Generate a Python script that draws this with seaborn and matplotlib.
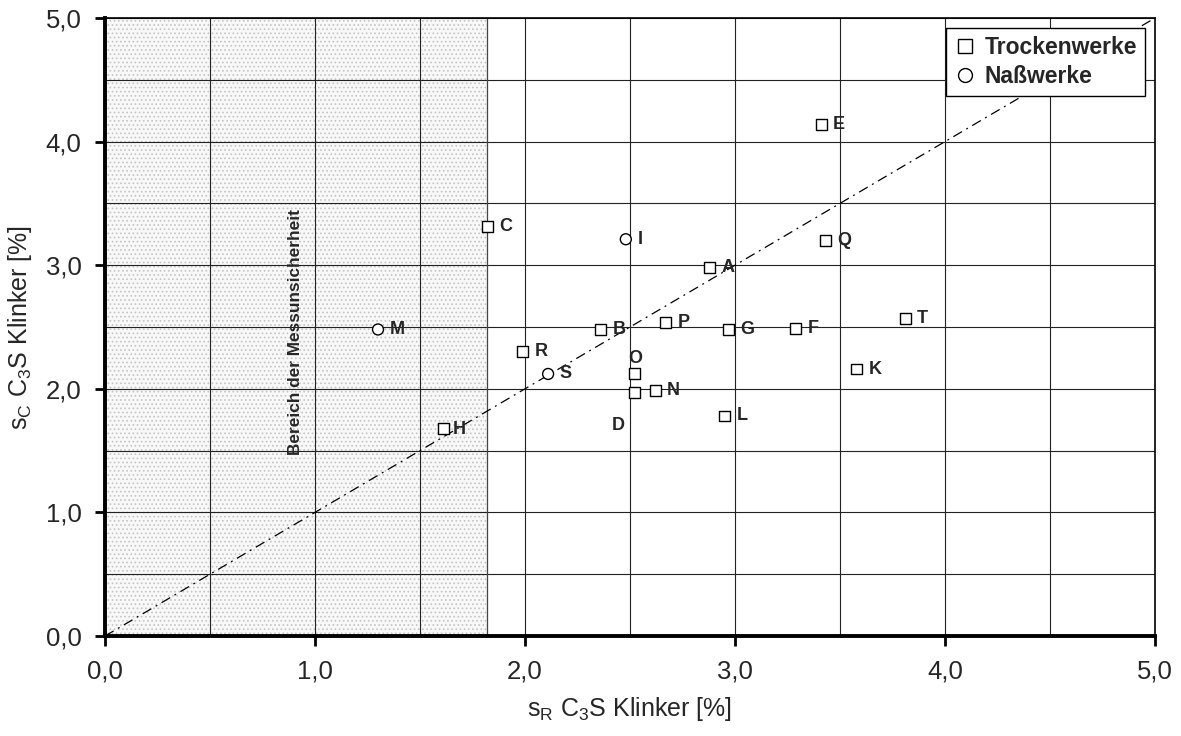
import matplotlib
matplotlib.use("Agg")
import matplotlib.pyplot as plt
from matplotlib.ticker import MultipleLocator, FuncFormatter
from matplotlib.lines import Line2D
import seaborn as sns
import pandas as pd

# Werke: Kennbuchstabe, Vergleichsstandardabweichung s_R, Wiederholstandardabweichung s_C
werke = ["A", "B", "C", "D", "E", "F", "G", "H", "I", "K",
         "L", "M", "N", "O", "P", "Q", "R", "S", "T"]
s_r = [2.88, 2.36, 1.82, 2.52, 3.41, 3.29, 2.97, 1.61, 2.48, 3.58,
       2.95, 1.30, 2.62, 2.52, 2.67, 3.43, 1.99, 2.11, 3.81]
s_c = [2.98, 2.48, 3.31, 1.97, 4.14, 2.49, 2.48, 1.68, 3.21, 2.16,
       1.78, 2.48, 1.99, 2.12, 2.54, 3.20, 2.30, 2.12, 2.57]
verfahren = ["Trockenwerke", "Trockenwerke", "Trockenwerke", "Trockenwerke",
             "Trockenwerke", "Trockenwerke", "Trockenwerke", "Trockenwerke",
             "Naßwerke", "Trockenwerke", "Trockenwerke", "Naßwerke",
             "Trockenwerke", "Trockenwerke", "Trockenwerke", "Trockenwerke",
             "Trockenwerke", "Naßwerke", "Trockenwerke"]
messunsicherheit = 1.82

df = pd.DataFrame({"werk": werke, "sR": s_r, "sC": s_c, "verfahren": verfahren})

sns.set_theme(style="white")
plt.rcParams["font.family"] = ["Liberation Sans", "DejaVu Sans"]
plt.rcParams["hatch.color"] = "#c4c4c4"
plt.rcParams["hatch.linewidth"] = 0.7
plt.rcParams["mathtext.fontset"] = "custom"
plt.rcParams["mathtext.rm"] = "Liberation Sans"
plt.rcParams["mathtext.it"] = "Liberation Sans"

fig = plt.figure(figsize=(11.81, 7.36), dpi=100)
ax = fig.add_axes([105 / 1181, 1 - 636 / 736, 1050 / 1181, 618 / 736])

# Bereich der Messunsicherheit
ax.axvspan(0, messunsicherheit, facecolor="#f8f8f8", edgecolor="#c4c4c4",
           hatch="....", linewidth=0, zorder=0.1)
ax.axvline(messunsicherheit, color="#444444", lw=0.9, zorder=0.6)

ax.set_axisbelow(True)
ax.xaxis.set_major_locator(MultipleLocator(1.0))
ax.yaxis.set_major_locator(MultipleLocator(1.0))
ax.xaxis.set_minor_locator(MultipleLocator(0.5))
ax.yaxis.set_minor_locator(MultipleLocator(0.5))
ax.grid(True, which="both", color="#222222", lw=0.8)

# Winkelhalbierende s_C = s_R
ax.plot([0, 5], [0, 5], color="black", lw=0.9, ls=(0, (8, 4, 1.5, 4)), zorder=2)

sns.scatterplot(data=df, x="sR", y="sC", style="verfahren",
                style_order=["Trockenwerke", "Naßwerke"],
                markers={"Trockenwerke": "s", "Naßwerke": "o"},
                s=62, facecolor="white", edgecolor="black", linewidth=1.0,
                ax=ax, zorder=3, legend=False)

# Beschriftung der Werke
label_offsets = {"O": (-4, 11), "D": (-16, -24), "H": (7, -1)}
for w, x, y in zip(werke, s_r, s_c):
    dx, dy = label_offsets.get(w, (8.5, 0))
    ax.annotate(w, (x, y), xytext=(dx, dy), textcoords="offset points",
                ha="left", va="center", fontsize=13, fontweight="bold", zorder=4)

ax.text(0.905, 2.46, "Bereich der Messunsicherheit", rotation=90,
        ha="center", va="center", fontsize=12.4, fontweight="bold", zorder=4)

ax.set_xlim(0, 5)
ax.set_ylim(0, 5)
fmt = FuncFormatter(lambda v, p: f"{v:.1f}".replace(".", ","))
ax.xaxis.set_major_formatter(fmt)
ax.yaxis.set_major_formatter(fmt)
ax.tick_params(which="major", direction="out", length=7, width=2, color="black",
               labelsize=18.5, pad=10, bottom=True, left=True)
ax.tick_params(which="minor", length=0)

ax.set_xlabel(r"s$_\mathrm{R}$ C$_\mathrm{3}$S Klinker [%]", fontsize=18, labelpad=8)
ax.set_ylabel(r"s$_\mathrm{C}$ C$_\mathrm{3}$S Klinker [%]", fontsize=18, labelpad=8)

for side in ["left", "bottom"]:
    ax.spines[side].set_linewidth(2.8)
    ax.spines[side].set_color("black")
for side in ["top", "right"]:
    ax.spines[side].set_linewidth(1.2)
    ax.spines[side].set_color("black")

# Legende
handles = [Line2D([], [], marker="s", ls="none", mfc="white", mec="black", ms=10, mew=1.0),
           Line2D([], [], marker="o", ls="none", mfc="white", mec="black", ms=10, mew=1.0)]
leg = ax.legend(handles, ["Trockenwerke", "Naßwerke"], loc="upper right",
                bbox_to_anchor=(0.9905, 0.984), frameon=True, fancybox=False,
                framealpha=1, edgecolor="black", prop={"weight": "bold", "size": 16.5},
                handletextpad=0.35, handlelength=1.0, borderpad=0.35,
                labelspacing=0.25, borderaxespad=0)
leg.get_frame().set_linewidth(1.0)
leg.set_zorder(5)

fig.savefig("out.png", dpi=100)
